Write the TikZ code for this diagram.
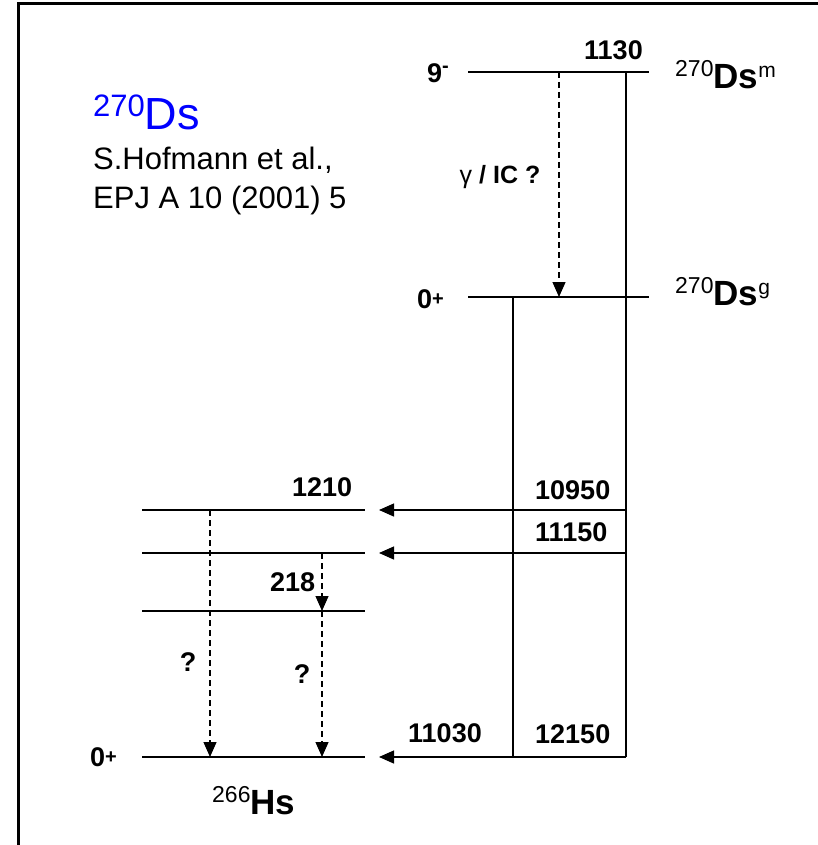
\documentclass[tikz,border=0pt]{standalone}
\usepackage{fontspec}
\setmainfont{Liberation Sans}
\usetikzlibrary{arrows.meta}
\definecolor{dsblue}{RGB}{0,0,255}
\newcommand{\fs}[1]{\fontsize{#1}{#1}\selectfont}
% mass number, symbol, state
\newcommand{\nucl}[3]{\raisebox{12pt}{\fs{23}#1}{\fs{35}\bfseries #2}\raisebox{11pt}{\fs{21}#3}}
\newcommand{\spin}[3]{{\fs{27}\bfseries #1}\raisebox{#3pt}{\fs{20}\bfseries #2}}

\begin{document}
\begin{tikzpicture}[x=1pt,y=-1pt,
    level/.style={line width=1.6pt},
    feed/.style={line width=1.3pt},
    gam/.style={line width=1.2pt,dash pattern=on 6pt off 4pt,-{Triangle[length=15pt,width=13pt]}},
    alph/.style={line width=1.3pt,-{Triangle[length=15pt,width=13pt]}},
    num/.style={inner sep=0pt,anchor=base west,font=\fs{27}\bfseries},
    txt/.style={inner sep=0pt,anchor=base west,font=\fs{31}}]
\useasboundingbox (0,0) rectangle (818,845);
\draw[line width=3pt] (18,845) -- (18,4) -- (818,4);

% title
\node[txt,text=dsblue] (title) at (93,130) {\raisebox{13pt}{\fs{31}270}{\fs{45}Ds}};
\node[txt] (ref1) at (93,170) {S.Hofmann et al.,};
\node[txt] (ref2) at (93,208) {EPJ A 10 (2001) 5};

% 270Ds levels
\coordinate (m-l) at (468,72);
\coordinate (m-r) at (649,72);
\coordinate (g-l) at (468,297);
\coordinate (g-r) at (649,297);
\draw[level] (m-l) -- (m-r);
\draw[level] (g-l) -- (g-r);
\node[num] (sm) at (427,83) {\spin{9}{-}{10}};
\node[num] (sg) at (417,308) {\spin{0}{+}{3}};
\node[num] (em) at (584,60) {1130};
\node[txt] (dsm) at (675,89) {\nucl{270}{Ds}{m}};
\node[txt] (dsg) at (675,305) {\nucl{270}{Ds}{g}};

% isomeric transition
\coordinate (it-a) at (559,72);
\coordinate (it-b) at (559,297);
\draw[gam] (it-a) -- (it-b);
\node[font=\fs{25}\bfseries,inner sep=0pt] (itl) at (500,177) {{\mdseries γ} / IC ?};

% 266Hs levels
\coordinate (h0-l) at (142,757);
\coordinate (h0-r) at (365,757);
\draw[level] (h0-l) -- (h0-r);
\foreach \y in {510,553,611}
  \draw[level] (142,\y) -- (365,\y);
\node[num] (s0) at (90,766) {\spin{0}{+}{3}};
\node[txt] (hs) at (212,814) {\nucl{266}{Hs}{}};
\node[num] (e1210) at (292,496) {1210};

% gamma transitions in 266Hs
\coordinate (q1-a) at (210,510);
\coordinate (q1-b) at (210,757);
\coordinate (e2-a) at (322,553);
\coordinate (e2-b) at (322,611);
\coordinate (q2-b) at (322,757);
\draw[gam] (q1-a) -- (q1-b);
\draw[gam] (e2-a) -- (e2-b);
\draw[gam] (e2-b) -- (q2-b);
\node[num] (e218) at (270,591) {218};
\node[font=\fs{27}\bfseries,inner sep=0pt] (q1) at (188,662) {?};
\node[font=\fs{27}\bfseries,inner sep=0pt] (q2) at (302,674) {?};

% alpha decays
\coordinate (am) at (626,72);
\coordinate (am-e) at (626,757);
\coordinate (ag) at (513,297);
\coordinate (ag-e) at (513,757);
\coordinate (f1) at (626,510);
\coordinate (f2) at (626,553);
\coordinate (t0) at (379,757);
\coordinate (t1) at (379,510);
\coordinate (t2) at (379,553);
\draw[feed] (am) -- (am-e);
\draw[feed] (ag) -- (ag-e);
\draw[alph] (f1) -- (t1);
\draw[alph] (f2) -- (t2);
\draw[alph] (am-e) -- (t0);
\node[num] (a1) at (535,499) {10950};
\node[num] (a2) at (535,541) {11150};
\node[num] (a3) at (535,743) {12150};
\node[num] (a4) at (408,742) {11030};
\end{tikzpicture}
\end{document}
